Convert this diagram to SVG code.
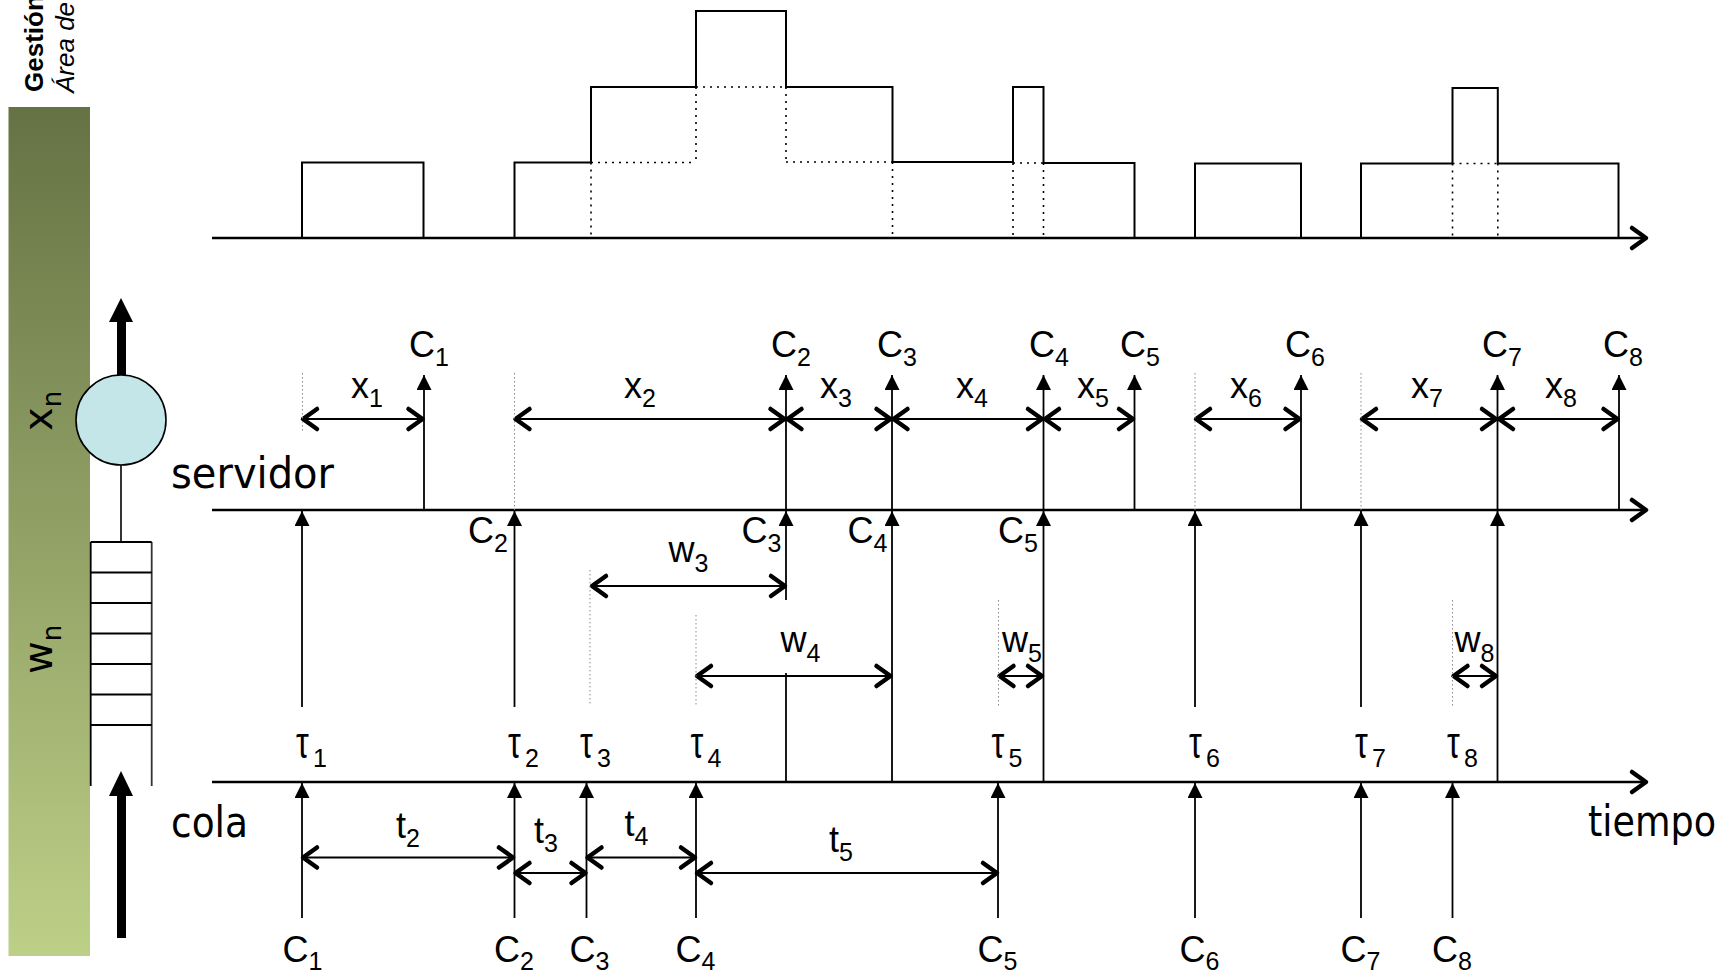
<svg xmlns="http://www.w3.org/2000/svg" width="1733" height="972" viewBox="0 0 1733 972">
<defs>
<linearGradient id="bar" x1="0" y1="0" x2="0" y2="1">
<stop offset="0" stop-color="#657244"/>
<stop offset="1" stop-color="#bdd087"/>
</linearGradient>
<marker id="tri" markerUnits="userSpaceOnUse" markerWidth="16" markerHeight="16" viewBox="0 0 16 16" refX="15" refY="7.5" orient="auto">
<path d="M0,0 L15,7.5 L0,15 Z" fill="#000"/>
</marker>
<marker id="chev" markerUnits="userSpaceOnUse" markerWidth="30" markerHeight="30" viewBox="-20 -15 30 30" refX="0" refY="0" orient="auto-start-reverse" overflow="visible">
<path d="M-14,-10 L0,0 L-14,10" fill="none" stroke="#000" stroke-width="4.5" stroke-linecap="round" stroke-linejoin="round"/>
</marker>
<style>
.ax{stroke:#000;stroke-width:2.6;fill:none;marker-end:url(#chev)}
.ln{stroke:#000;stroke-width:1.8;fill:none}
.arr{stroke:#000;stroke-width:1.8;fill:none;marker-end:url(#tri)}
.dbl{stroke:#000;stroke-width:2.2;fill:none;marker-start:url(#chev);marker-end:url(#chev)}
.dot{stroke:#000;stroke-width:1.6;stroke-dasharray:2 5;fill:none}
.gd{stroke:#888;stroke-width:1;stroke-dasharray:1.5 2.5;fill:none}
.chart{stroke:#000;stroke-width:2;fill:none}
.lbl{font-family:"Liberation Sans",Arial,sans-serif;font-size:36px;fill:#000}
.tau{font-size:34px}
.sub{font-size:25px}
.hand{font-family:"DejaVu Sans","Noto Sans",sans-serif;font-size:42px;fill:#000}
.bar{font-family:"DejaVu Sans",sans-serif;font-size:40px;fill:#000}
</style>
</defs>
<rect width="1733" height="972" fill="#fff"/>

<g id="sidebar">
<rect x="8.5" y="107" width="81.5" height="849" fill="url(#bar)"/>
<text transform="translate(43,92) rotate(-90)" font-family="Liberation Sans,Arial,sans-serif" font-weight="bold" font-size="26">Gestión</text>
<text transform="translate(74,93) rotate(-90)" font-family="Liberation Sans,Arial,sans-serif" font-style="italic" font-size="26">Área de</text>
<text class="bar" transform="translate(52,431) rotate(-90)">x<tspan dy="9" font-size="26">n</tspan></text>
<text class="bar" transform="translate(52,674) rotate(-90)">w<tspan dy="9" font-size="26">n</tspan></text>
</g>

<g id="server">
<polygon points="109,322 133,322 121,298" fill="#000"/>
<rect x="117" y="321" width="9" height="56" fill="#000"/>
<circle cx="121" cy="420" r="45" fill="#c5e6e8" stroke="#000" stroke-width="1.6"/>
<line x1="121" y1="465" x2="121" y2="542" stroke="#000" stroke-width="1.6"/>
</g>

<g id="queue" stroke="#000" stroke-width="1.8">
<line x1="90.7" y1="542" x2="90.7" y2="786"/>
<line x1="151.7" y1="542" x2="151.7" y2="786" stroke="#333"/>
<line x1="90.7" y1="542" x2="151.7" y2="542"/>
<line x1="90.7" y1="572.5" x2="151.7" y2="572.5"/>
<line x1="90.7" y1="603" x2="151.7" y2="603"/>
<line x1="90.7" y1="633.5" x2="151.7" y2="633.5"/>
<line x1="90.7" y1="664" x2="151.7" y2="664"/>
<line x1="90.7" y1="694.5" x2="151.7" y2="694.5"/>
<line x1="90.7" y1="725" x2="151.7" y2="725"/>
<polygon points="109,796 133,796 121,771" fill="#000" stroke="none"/>
<rect x="117" y="795" width="9" height="143" fill="#000" stroke="none"/>
</g>

<g id="occupancy-chart">
<path class="chart" d="M302,238 V162.5 H423.5 V238"/>
<path class="chart" d="M514.5,238 V162.5 H591 V87 H696 V11 H786 V87 H892.5 V162 H1013 V87 H1043.5 V163 H1134.5 V238"/>
<path class="chart" d="M1195,238 V163.5 H1301 V238"/>
<path class="chart" d="M1361,238 V163.5 H1452.5 V88 H1497.8 V163.5 H1618.5 V238"/>
<path class="dot" d="M591,162.5 V238 M591,162.5 H696 M696,87 V162.5 M696,87 H786 M786,87 V162 M786,162 H892.5 M892.5,162 V238"/>
<path class="dot" d="M1013,163 V238 M1043.5,163 V238 M1013,163 H1043.5"/>
<path class="dot" d="M1452.5,163.5 V238 M1497.8,163.5 V238 M1452.5,163.5 H1497.8"/>
</g>

<g id="axes">
<path class="ax" d="M212,238 H1646"/>
<path class="ax" d="M212,510 H1646"/>
<path class="ax" d="M212,782 H1646"/>
</g>

<g id="connectors">
<line class="arr" x1="424" y1="510" x2="424" y2="375"/>
<line class="arr" x1="786" y1="510" x2="786" y2="375"/>
<line class="arr" x1="892" y1="510" x2="892" y2="375"/>
<line class="arr" x1="1043.5" y1="510" x2="1043.5" y2="375"/>
<line class="arr" x1="1134.5" y1="510" x2="1134.5" y2="375"/>
<line class="arr" x1="1301" y1="510" x2="1301" y2="375"/>
<line class="arr" x1="1497.5" y1="510" x2="1497.5" y2="375"/>
<line class="arr" x1="1619" y1="510" x2="1619" y2="375"/>
<line class="dbl" x1="303" y1="419" x2="422.5" y2="419"/>
<line class="dbl" x1="515.5" y1="419" x2="784.5" y2="419"/>
<line class="dbl" x1="787.5" y1="419" x2="890.5" y2="419"/>
<line class="dbl" x1="893.5" y1="419" x2="1042" y2="419"/>
<line class="dbl" x1="1045" y1="419" x2="1133" y2="419"/>
<line class="dbl" x1="1196" y1="419" x2="1299.5" y2="419"/>
<line class="dbl" x1="1362" y1="419" x2="1496" y2="419"/>
<line class="dbl" x1="1499" y1="419" x2="1617.5" y2="419"/>
<line class="arr" x1="302" y1="707" x2="302" y2="511"/>
<line class="arr" x1="514.5" y1="707" x2="514.5" y2="511"/>
<line class="arr" x1="786" y1="600" x2="786" y2="511"/>
<line class="arr" x1="892" y1="782" x2="892" y2="511"/>
<line class="arr" x1="1043.5" y1="782" x2="1043.5" y2="511"/>
<line class="arr" x1="1195" y1="707" x2="1195" y2="511"/>
<line class="arr" x1="1361" y1="707" x2="1361" y2="511"/>
<line class="arr" x1="1497.5" y1="782" x2="1497.5" y2="511"/>
<line class="ln" x1="786" y1="673" x2="786" y2="782"/>
<line class="dbl" x1="592" y1="586" x2="785" y2="586"/>
<line class="dbl" x1="697" y1="676" x2="890.5" y2="676"/>
<line class="dbl" x1="999.5" y1="676" x2="1042" y2="676"/>
<line class="dbl" x1="1453.5" y1="676" x2="1496" y2="676"/>
<line class="arr" x1="302" y1="918" x2="302" y2="783"/>
<line class="arr" x1="514.5" y1="918" x2="514.5" y2="783"/>
<line class="arr" x1="586.5" y1="918" x2="586.5" y2="783"/>
<line class="arr" x1="696" y1="918" x2="696" y2="783"/>
<line class="arr" x1="998" y1="918" x2="998" y2="783"/>
<line class="arr" x1="1195" y1="918" x2="1195" y2="783"/>
<line class="arr" x1="1361" y1="918" x2="1361" y2="783"/>
<line class="arr" x1="1452.5" y1="918" x2="1452.5" y2="783"/>
<line class="dbl" x1="303" y1="857.5" x2="513" y2="857.5"/>
<line class="dbl" x1="515.5" y1="873" x2="585.5" y2="873"/>
<line class="dbl" x1="587.5" y1="857.5" x2="695" y2="857.5"/>
<line class="dbl" x1="697" y1="873" x2="997" y2="873"/>
<line class="gd" x1="302.5" y1="373" x2="302.5" y2="433"/>
<line class="gd" x1="514.5" y1="373" x2="514.5" y2="510"/>
<line class="gd" x1="1195" y1="373" x2="1195" y2="510"/>
<line class="gd" x1="1361" y1="373" x2="1361" y2="510"/>
<line class="gd" x1="590" y1="570" x2="590" y2="705"/>
<line class="gd" x1="696" y1="615" x2="696" y2="705"/>
<line class="gd" x1="998.5" y1="600" x2="998.5" y2="707"/>
<line class="gd" x1="1452.5" y1="600" x2="1452.5" y2="707"/>
</g>

<g id="labels" class="lbl">
<text x="409" y="357">C<tspan class="sub" dy="9">1</tspan></text>
<text x="771" y="357">C<tspan class="sub" dy="9">2</tspan></text>
<text x="877" y="357">C<tspan class="sub" dy="9">3</tspan></text>
<text x="1029" y="357">C<tspan class="sub" dy="9">4</tspan></text>
<text x="1120" y="357">C<tspan class="sub" dy="9">5</tspan></text>
<text x="1285" y="357">C<tspan class="sub" dy="9">6</tspan></text>
<text x="1482" y="357">C<tspan class="sub" dy="9">7</tspan></text>
<text x="1603" y="357">C<tspan class="sub" dy="9">8</tspan></text>
<text x="351" y="398">x<tspan class="sub" dy="9">1</tspan></text>
<text x="624" y="398">x<tspan class="sub" dy="9">2</tspan></text>
<text x="820" y="398">x<tspan class="sub" dy="9">3</tspan></text>
<text x="956" y="398">x<tspan class="sub" dy="9">4</tspan></text>
<text x="1077" y="398">x<tspan class="sub" dy="9">5</tspan></text>
<text x="1230" y="398">x<tspan class="sub" dy="9">6</tspan></text>
<text x="1411" y="398">x<tspan class="sub" dy="9">7</tspan></text>
<text x="1545" y="398">x<tspan class="sub" dy="9">8</tspan></text>
<text x="468" y="543">C<tspan class="sub" dy="9">2</tspan></text>
<text x="741.5" y="543">C<tspan class="sub" dy="9">3</tspan></text>
<text x="847.5" y="543">C<tspan class="sub" dy="9">4</tspan></text>
<text x="998" y="543">C<tspan class="sub" dy="9">5</tspan></text>
<text x="668.5" y="562">w<tspan class="sub" dy="10">3</tspan></text>
<text x="780.5" y="652">w<tspan class="sub" dy="10">4</tspan></text>
<text x="1002" y="652">w<tspan class="sub" dy="10">5</tspan></text>
<text x="1454.5" y="652">w<tspan class="sub" dy="10">8</tspan></text>
<text class="tau" transform="translate(296,758) scale(0.95,1.3)">τ</text>
<text class="sub" x="313" y="767">1</text>
<text class="tau" transform="translate(508,758) scale(0.95,1.3)">τ</text>
<text class="sub" x="525" y="767">2</text>
<text class="tau" transform="translate(580,758) scale(0.95,1.3)">τ</text>
<text class="sub" x="597" y="767">3</text>
<text class="tau" transform="translate(690.5,758) scale(0.95,1.3)">τ</text>
<text class="sub" x="707.5" y="767">4</text>
<text class="tau" transform="translate(991.5,758) scale(0.95,1.3)">τ</text>
<text class="sub" x="1008.5" y="767">5</text>
<text class="tau" transform="translate(1189,758) scale(0.95,1.3)">τ</text>
<text class="sub" x="1206" y="767">6</text>
<text class="tau" transform="translate(1355,758) scale(0.95,1.3)">τ</text>
<text class="sub" x="1372" y="767">7</text>
<text class="tau" transform="translate(1447,758) scale(0.95,1.3)">τ</text>
<text class="sub" x="1464" y="767">8</text>
<text x="396" y="838">t<tspan class="sub" dy="9">2</tspan></text>
<text x="534" y="843">t<tspan class="sub" dy="9">3</tspan></text>
<text x="624.5" y="836">t<tspan class="sub" dy="9">4</tspan></text>
<text x="829" y="852">t<tspan class="sub" dy="9">5</tspan></text>
<text x="282.5" y="962">C<tspan class="sub" dy="8">1</tspan></text>
<text x="494" y="962">C<tspan class="sub" dy="8">2</tspan></text>
<text x="569.5" y="962">C<tspan class="sub" dy="8">3</tspan></text>
<text x="675.5" y="962">C<tspan class="sub" dy="8">4</tspan></text>
<text x="977.5" y="962">C<tspan class="sub" dy="8">5</tspan></text>
<text x="1179.5" y="962">C<tspan class="sub" dy="8">6</tspan></text>
<text x="1340.5" y="962">C<tspan class="sub" dy="8">7</tspan></text>
<text x="1432" y="962">C<tspan class="sub" dy="8">8</tspan></text>
</g>

<g id="axis-titles">
<text class="hand" x="171" y="487.5" textLength="163" lengthAdjust="spacingAndGlyphs">servidor</text>
<text class="hand" x="171" y="836.5" textLength="77" lengthAdjust="spacingAndGlyphs">cola</text>
<text class="hand" x="1588" y="836" textLength="128" lengthAdjust="spacingAndGlyphs">tiempo</text>
</g>
</svg>
